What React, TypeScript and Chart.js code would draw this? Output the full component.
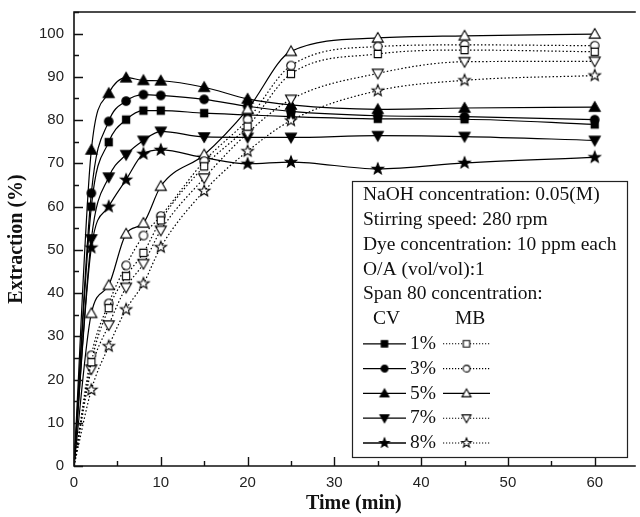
import React, { useEffect, useRef } from 'react';
import { Chart, registerables } from 'chart.js';

Chart.register(...registerables);

// ---- data ----
const times = [0, 2, 4, 6, 8, 10, 15, 20, 25, 35, 45, 60];

const cv1 = [0, 60.0, 74.9, 80.1, 82.2, 82.2, 81.6, 81.2, 80.8, 80.3, 80.2, 79.0];
const cv3 = [0, 63.1, 79.7, 84.4, 85.9, 85.7, 84.8, 83.2, 82.0, 81.0, 80.8, 80.1];
const cv5 = [0, 73.1, 86.2, 89.8, 89.2, 89.1, 87.6, 84.9, 83.5, 82.5, 82.8, 83.0];
const cv7 = [0, 52.5, 66.8, 72.0, 75.3, 77.4, 76.1, 76.0, 76.0, 76.4, 76.2, 75.3];
const cv8 = [0, 50.5, 60.0, 66.2, 72.2, 73.1, 71.3, 69.9, 70.3, 68.7, 70.1, 71.4];

const mb1 = [0, 24.0, 36.5, 43.9, 49.3, 56.8, 69.3, 78.5, 90.7, 95.3, 96.2, 95.8];
const mb3 = [0, 25.6, 37.6, 46.4, 53.3, 57.8, 70.5, 80.1, 92.6, 97.0, 97.4, 97.2];
const mb5 = [0, 35.3, 41.8, 53.7, 56.2, 64.7, 72.0, 82.5, 95.9, 99.0, 99.5, 99.9];
const mb7 = [0, 22.4, 32.6, 41.3, 46.8, 54.5, 66.6, 77.0, 84.8, 90.8, 93.5, 93.6];
const mb8 = [0, 17.6, 27.7, 36.2, 42.2, 50.6, 63.6, 72.8, 79.9, 86.8, 89.2, 90.3];

const xTickValues = [0, 10, 20, 30, 40, 50, 60];
const yTickValues = [0, 10, 20, 30, 40, 50, 60, 70, 80, 90, 100];

const infoLines = [
  'NaOH concentration: 0.05(M)',
  'Stirring speed: 280 rpm',
  'Dye concentration: 10 ppm each',
  'O/A (vol/vol):1',
  'Span 80 concentration:',
];
const spanLabels = ['1%', '3%', '5%', '7%', '8%'];
const shapes = ['square', 'circle', 'triangle', 'down', 'star'];
const mbSolid = [false, false, true, false, false];

const SERIF = "'Liberation Serif', 'Times New Roman', serif";
const SANS = "'Liberation Sans', Arial, sans-serif";

function makeMarker(shape: string, filled: boolean, size: number): HTMLCanvasElement {
  const dim = Math.ceil(size + 4) % 2 === 0 ? Math.ceil(size + 4) : Math.ceil(size + 5);
  const c = document.createElement('canvas');
  c.width = dim;
  c.height = dim;
  const ctx = c.getContext('2d')!;
  const cx = dim / 2;
  const cy = dim / 2;
  const r = size / 2;
  ctx.beginPath();
  if (shape === 'square') {
    const h = r * 0.8;
    ctx.rect(cx - h, cy - h, 2 * h, 2 * h);
  } else if (shape === 'circle') {
    ctx.arc(cx, cy, r * 0.85, 0, Math.PI * 2);
  } else if (shape === 'triangle') {
    ctx.moveTo(cx, cy - r);
    ctx.lineTo(cx + r, cy + r * 0.75);
    ctx.lineTo(cx - r, cy + r * 0.75);
    ctx.closePath();
  } else if (shape === 'down') {
    ctx.moveTo(cx, cy + r);
    ctx.lineTo(cx + r, cy - r * 0.75);
    ctx.lineTo(cx - r, cy - r * 0.75);
    ctx.closePath();
  } else {
    const inner = r * 0.42;
    for (let i = 0; i < 10; i++) {
      const rr = i % 2 === 0 ? r : inner;
      const a = -Math.PI / 2 + (i * Math.PI) / 5;
      const px = cx + rr * Math.cos(a);
      const py = cy + rr * Math.sin(a);
      if (i === 0) ctx.moveTo(px, py);
      else ctx.lineTo(px, py);
    }
    ctx.closePath();
  }
  ctx.fillStyle = filled ? '#000' : '#fff';
  ctx.fill();
  ctx.strokeStyle = '#000';
  ctx.lineWidth = 1.1;
  ctx.stroke();
  return c;
}

export default function App() {
  const canvasRef = useRef<HTMLCanvasElement | null>(null);

  useEffect(() => {
    document.body.style.margin = '0';
    const canvas = canvasRef.current;
    if (!canvas) return;

    const chartSizes: Record<string, number> = { square: 9, circle: 10, triangle: 11, down: 11, star: 12 };
    const legendSizes: Record<string, number> = { square: 8, circle: 8, triangle: 9, down: 9, star: 10 };

    const cvMarkers = shapes.map((s) => makeMarker(s, true, chartSizes[s]));
    const mbMarkers = shapes.map((s) => makeMarker(s, false, chartSizes[s]));
    const cvLegend = shapes.map((s) => makeMarker(s, true, legendSizes[s]));
    const mbLegend = shapes.map((s) => makeMarker(s, false, legendSizes[s]));

    const cvSeries = [cv1, cv3, cv5, cv7, cv8];
    const mbSeries = [mb1, mb3, mb5, mb7, mb8];

    const toPts = (arr: number[]) => times.map((t, i) => ({ x: t, y: arr[i] }));

    const mk = (arr: number[], marker: HTMLCanvasElement, dashed: boolean, label: string) => ({
      label,
      data: toPts(arr),
      borderColor: '#000',
      backgroundColor: '#000',
      borderWidth: 1.2,
      borderDash: dashed ? [1.5, 2.2] : [],
      pointStyle: marker,
      pointRadius: (ctx: any) => (ctx.dataIndex === 0 ? 0 : 5),
      pointHoverRadius: 0,
      cubicInterpolationMode: 'monotone' as const,
      fill: false,
    });

    const datasets: any[] = [];
    mbSeries.forEach((s, i) => datasets.push(mk(s, mbMarkers[i], !mbSolid[i], 'MB ' + spanLabels[i])));
    cvSeries.forEach((s, i) => datasets.push(mk(s, cvMarkers[i], false, 'CV ' + spanLabels[i])));

    const framePlugin = {
      id: 'frame',
      afterDraw(chart: any) {
        const { ctx, chartArea: a, scales } = chart;
        const x = scales.x;
        const y = scales.y;
        ctx.save();
        ctx.strokeStyle = '#111';
        ctx.lineWidth = 1.6;
        ctx.beginPath();
        ctx.moveTo(a.right + 2, a.top);
        ctx.lineTo(a.left, a.top);
        ctx.lineTo(a.left, a.bottom);
        ctx.lineTo(a.right + 2, a.bottom);
        ctx.stroke();
        ctx.lineWidth = 1.4;
        ctx.beginPath();
        for (let v = 0; v <= 105; v += 5) {
          const py = Math.round(y.getPixelForValue(v)) + 0.5;
          const len = v % 10 === 0 ? 9 : 5;
          ctx.moveTo(a.left, py);
          ctx.lineTo(a.left + len, py);
        }
        for (let v = 0; v <= 64; v += 5) {
          const px = Math.round(x.getPixelForValue(v)) + 0.5;
          const len = v % 10 === 0 ? 9 : 5;
          ctx.moveTo(px, a.bottom);
          ctx.lineTo(px, a.bottom - len);
        }
        ctx.stroke();

        // annotation / legend box
        const bx = 352, by = 181, bw = 275, bh = 276;
        ctx.fillStyle = '#fff';
        ctx.fillRect(bx, by, bw, bh);
        ctx.strokeStyle = '#222';
        ctx.lineWidth = 1.2;
        ctx.strokeRect(bx + 0.5, by + 0.5, bw, bh);

        ctx.fillStyle = '#111';
        ctx.font = `19.5px ${SERIF}`;
        ctx.textBaseline = 'middle';
        ctx.textAlign = 'left';
        const rowY = (i: number) => 195 + i * 24.8;
        infoLines.forEach((t, i) => ctx.fillText(t, 363, rowY(i)));
        ctx.fillText('CV', 373, rowY(5));
        ctx.fillText('MB', 455, rowY(5));
        spanLabels.forEach((lab, i) => {
          const yy = rowY(6 + i);
          ctx.strokeStyle = '#000';
          ctx.lineWidth = 1.3;
          ctx.setLineDash([]);
          ctx.beginPath();
          ctx.moveTo(363, yy);
          ctx.lineTo(406, yy);
          ctx.stroke();
          const m1 = cvLegend[i];
          ctx.drawImage(m1, 384.5 - m1.width / 2, yy - m1.height / 2);
          ctx.fillText(lab, 410, yy);
          ctx.lineWidth = 1.1;
          ctx.setLineDash(mbSolid[i] ? [] : [1.2, 1.8]);
          ctx.beginPath();
          ctx.moveTo(443, yy);
          ctx.lineTo(490, yy);
          ctx.stroke();
          ctx.setLineDash([]);
          const m2 = mbLegend[i];
          ctx.drawImage(m2, 466.5 - m2.width / 2, yy - m2.height / 2);
        });
        ctx.restore();
      },
    };

    const chart = new Chart(canvas, {
      type: 'line',
      data: { datasets },
      options: {
        animation: false,
        responsive: false,
        devicePixelRatio: 1,
        layout: { padding: { top: 12, right: 0, left: 0, bottom: 0 } },
        plugins: { legend: { display: false }, tooltip: { enabled: false } },
        events: [],
        scales: {
          x: {
            type: 'linear',
            min: 0,
            max: 64.5,
            grid: { display: false, drawTicks: false },
            border: { display: false },
            ticks: { font: { family: SANS, size: 15 }, color: '#222', padding: 8, maxRotation: 0 },
            afterBuildTicks: (scale: any) => {
              scale.ticks = xTickValues.map((v) => ({ value: v }));
            },
            afterFit: (scale: any) => {
              scale.height = 51;
              scale.paddingLeft = 0;
              scale.paddingRight = 0;
            },
            title: {
              display: true,
              text: 'Time (min)',
              font: { family: SERIF, size: 20, weight: 'bold' },
              color: '#111',
              padding: { top: 0, bottom: 1 },
            },
          },
          y: {
            type: 'linear',
            min: 0,
            max: 105,
            grid: { display: false, drawTicks: false },
            border: { display: false },
            ticks: { font: { family: SANS, size: 15 }, color: '#222', padding: 10 },
            afterBuildTicks: (scale: any) => {
              scale.ticks = yTickValues.map((v) => ({ value: v }));
            },
            afterFit: (scale: any) => {
              scale.width = 74;
              scale.paddingTop = 0;
              scale.paddingBottom = 0;
            },
            title: {
              display: true,
              text: 'Extraction (%)',
              font: { family: SERIF, size: 20, weight: 'bold' },
              color: '#111',
              padding: { top: 5, bottom: 0 },
            },
          },
        },
      },
      plugins: [framePlugin],
    });

    return () => chart.destroy();
  }, []);

  return (
    <div style={{ width: 640, height: 517, background: '#fff' }}>
      <canvas ref={canvasRef} width={640} height={517} style={{ display: 'block' }} />
    </div>
  );
}
